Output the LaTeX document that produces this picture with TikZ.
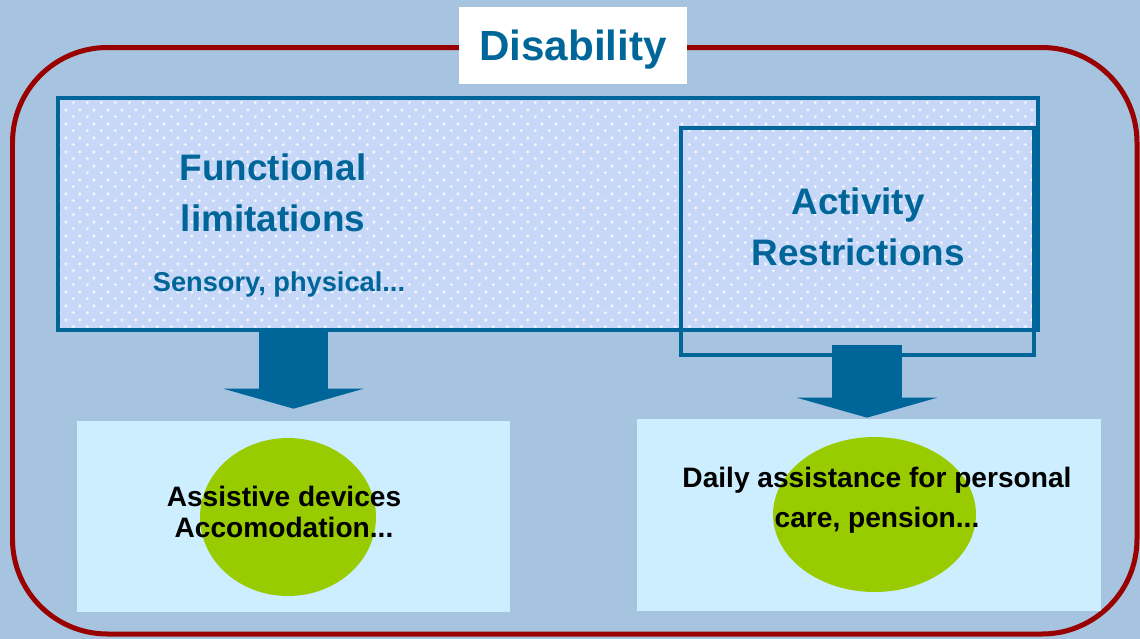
\documentclass[tikz,border=0pt]{standalone}
\usepackage{fontspec}
\setmainfont{Liberation Sans}
\usetikzlibrary{arrows.meta,shapes.geometric,patterns.meta}

\definecolor{slide}{RGB}{166,195,224}
\definecolor{frame}{RGB}{153,0,0}
\definecolor{ink}{RGB}{0,102,153}
\definecolor{dotted}{RGB}{198,215,247}
\definecolor{pale}{RGB}{204,238,255}
\definecolor{lime}{RGB}{153,204,0}

% small white crosses on a staggered grid
\tikzdeclarepattern{
  name=crosses,
  type=uncolored,
  bottom left={(0pt,0pt)},
  top right={(8pt,8pt)},
  tile size={(8pt,8pt)},
  code={
    \draw[line width=0.5pt] (1pt,2pt) -- (3pt,2pt) (2pt,1pt) -- (2pt,3pt);
    \draw[line width=0.5pt] (5pt,6pt) -- (7pt,6pt) (6pt,5pt) -- (6pt,7pt);
  }
}

\begin{document}
\begin{tikzpicture}[x=0.02cm,y=-0.02cm,
    heading/.style={text=ink,font=\fontsize{21}{29}\selectfont\bfseries,align=center},
    answer/.style={text=black,font=\fontsize{16}{18}\selectfont\bfseries,align=center},
    panel/.style={draw=ink,line width=0.08cm,preaction={fill=dotted},pattern=crosses,pattern color=white},
    outline/.style={draw=ink,line width=0.08cm},
    result/.style={fill=pale,inner sep=0pt},
    blob/.style={ellipse,fill=lime,inner sep=0pt},
    bigarrow/.style={ink,line width=1.4cm,-{Triangle[width=2.8cm,length=0.4cm]}}]
  \useasboundingbox[fill=slide] (0,0) rectangle (1140,639);

  % outer frame and its title
  \draw[frame,line width=0.1cm,rounded corners=1.9cm] (12.5,47.5) rectangle (1137,634);
  \node[fill=white,minimum width=4.56cm,minimum height=1.54cm] (title) at (573,45.5) {};
  \node[text=ink,font=\fontsize{24}{28}\selectfont\bfseries] (titletext) at (573,50) {Disability};

  % limitations and restrictions
  \node[panel,minimum width=19.6cm,minimum height=4.64cm] (func) at (548,214) {};
  \node[outline,minimum width=7.06cm,minimum height=4.54cm] (act) at (857.5,241.5) {};
  \node[heading] (functext) at (273,193) {Functional\\limitations};
  \node[text=ink,font=\fontsize{15.5}{18}\selectfont\bfseries] (sensory) at (279,284) {Sensory, physical...};
  \node[heading] (acttext) at (858,227) {Activity\\Restrictions};

  % responses
  \node[result,minimum width=8.66cm,minimum height=3.82cm] (lbox) at (293.5,516.5) {};
  \node[result,minimum width=9.28cm,minimum height=3.84cm] (rbox) at (869,515) {};
  \node[blob,minimum width=3.52cm,minimum height=3.16cm] (lblob) at (288,517) {};
  \node[blob,minimum width=4.06cm,minimum height=3.1cm] (rblob) at (874.5,514.5) {};
  \node[answer] (ltext) at (284,512) {Assistive devices\\Accomodation...};
  \node[answer,font=\fontsize{16}{22.5}\selectfont\bfseries] (rtext) at (877,500) {Daily assistance for personal\\care, pension...};

  \draw[bigarrow,shorten >=0.24cm] (lbox.north |- func.south) -- (lbox.north);
  \draw[bigarrow,shorten >=0.02cm] ([xshift=-0.04cm,yshift=0.24cm]rbox.north |- act.south) -- ([xshift=-0.04cm]rbox.north);
\end{tikzpicture}
\end{document}
